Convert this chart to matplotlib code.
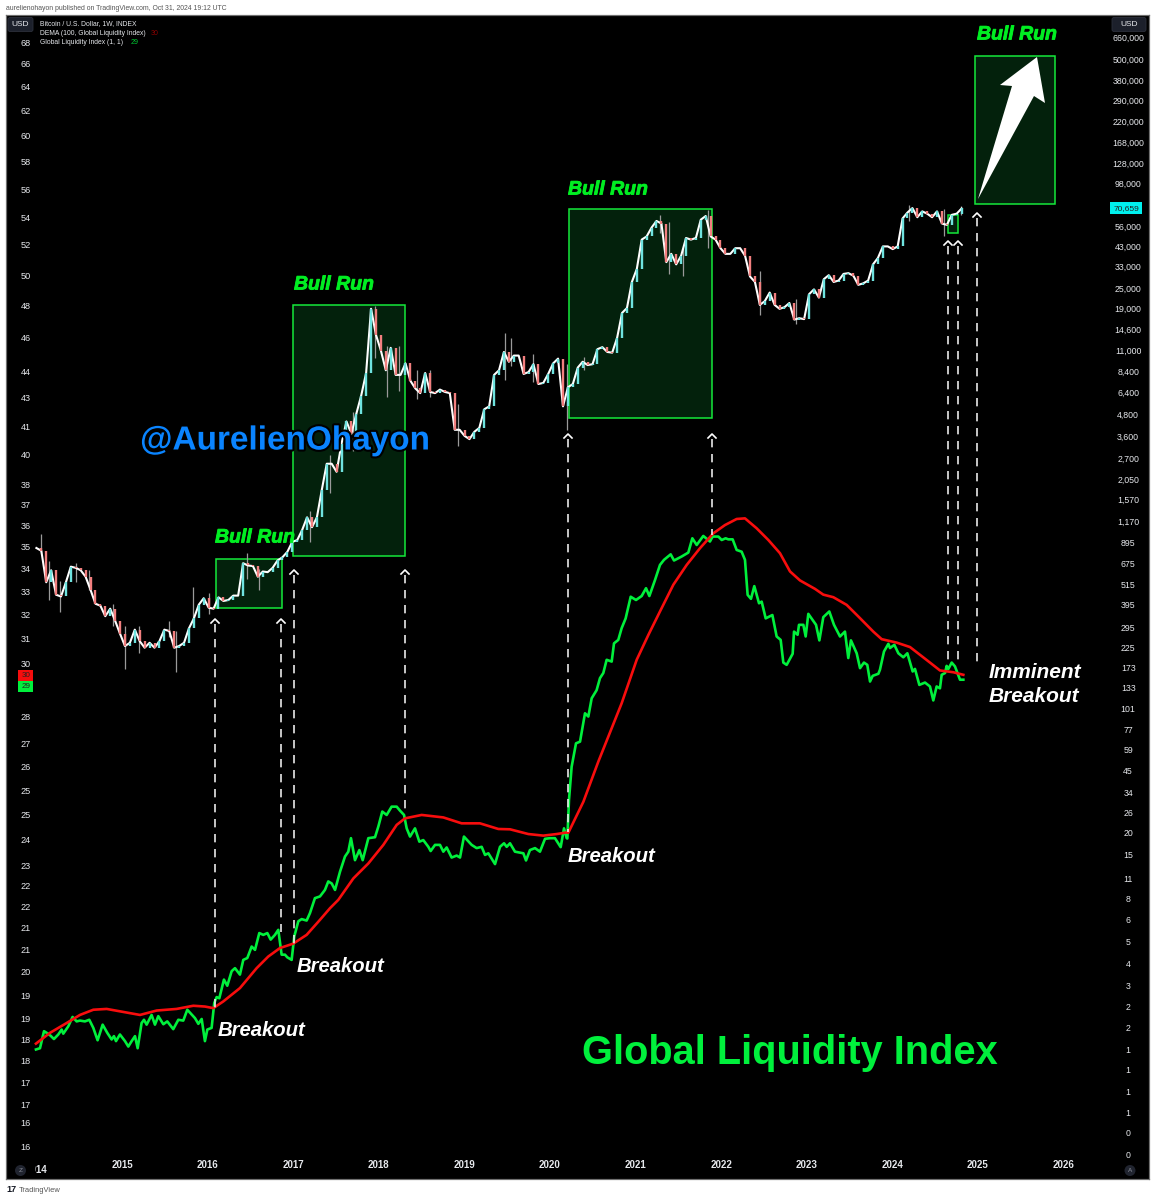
import numpy as np
import matplotlib
matplotlib.use('Agg')
import matplotlib.pyplot as plt
from matplotlib.patches import Rectangle, Polygon, Circle, FancyBboxPatch
import matplotlib.patheffects as pe

plt.rcParams['font.family'] = ['Liberation Sans', 'DejaVu Sans']

####################################################################################################
# data

# BTC close, one value every three weeks from January 2014
btc_start = 2014.0
btc_step = 21 / 365.25
btc_close = [
    830, 800, 530, 620, 450, 440, 530, 650, 640, 620, 570, 480, 400, 390, 340, 375, 320,
    270, 230, 240, 285, 245, 225, 240, 225, 245, 285, 280, 225, 230, 240, 290, 330, 395, 430,
    380, 375, 435, 415, 420, 445, 445, 680, 660, 655, 570, 610, 605, 640, 705, 735, 790,
    900, 920, 1050, 1240, 1090, 1240, 1780, 2500, 2500, 2250, 3250, 4350, 3700, 4800, 6100, 8200, 19000,
    13500, 11000, 8500, 11400, 8000, 8000, 9300, 7400, 6700, 6300, 8200, 6400, 6300, 6600, 6400, 6300, 3900, 3900,
    3600, 3450, 3800, 4000, 5100, 5300, 8000, 8500, 10800, 9500, 10300, 10300, 8100, 8300, 9200, 7100, 7200,
    8100, 9300, 9900, 5300, 6800, 7100, 8800, 9500, 9100, 9200, 11200, 11500, 10800, 10700, 13000, 18000, 19200, 27000,
    32000, 47000, 49000, 55000, 60000, 58000, 35000, 39000, 34000, 38000, 48000, 47000, 48000, 61000, 64000, 49000, 47000,
    42000, 39000, 39000, 42000, 42000, 38000, 29000, 27000, 20000, 21000, 23500, 20000, 19000, 19400, 20500, 16500, 16800,
    16600, 23000, 24500, 22000, 28000, 29500, 27000, 27500, 30000, 30300, 29300, 26000, 26500, 27500, 34000, 37000, 43000, 43000,
    41500, 43000, 62000, 67000, 71000, 63000, 68000, 66000, 63000, 68000, 58000, 57000, 65000, 66000, 70659,
]

# the wicks that stick out
wick_year = [2014.05, 2014.15, 2014.28, 2014.46, 2014.62, 2014.90, 2015.04, 2015.20, 2015.55, 2015.627,
             2015.83, 2016.02, 2016.46, 2016.60, 2017.20, 2017.43, 2017.70, 2017.95, 2018.10, 2018.24,
             2018.45, 2018.60, 2018.92, 2019.47, 2019.55, 2019.80, 2020.20, 2020.40, 2021.28, 2021.39,
             2021.55, 2021.85, 2022.45, 2022.87, 2024.20, 2024.60, 2024.80]
wick_low = [780, 420, 360, 530, 480, 300, 170, 210, 260, 164,
            300, 350, 550, 480, 900, 1700, 2950, 10000, 6000, 6500,
            5800, 6000, 3150, 7500, 9000, 7300, 3890, 8500, 51000, 30000,
            29000, 42000, 17600, 15500, 60000, 49000, 65000]
wick_high = [1000, 700, 540, 680, 620, 400, 300, 300, 320, 280,
             498, 460, 780, 630, 1350, 2800, 4900, 19800, 11700, 11700,
             8500, 8500, 5500, 13800, 13000, 10500, 9200, 10100, 64800, 59000,
             42000, 69000, 31000, 21500, 73800, 70000, 73000]

# Global Liquidity Index
gli_year = [
    2013.995, 2014.042, 2014.089, 2014.120, 2014.166, 2014.205, 2014.256, 2014.295, 2014.314, 2014.373,
    2014.423, 2014.470, 2014.509, 2014.567, 2014.618, 2014.665, 2014.715, 2014.774, 2014.828, 2014.879,
    2014.906, 2014.930, 2014.976, 2015.035, 2015.074, 2015.113, 2015.152, 2015.183, 2015.229, 2015.257,
    2015.288, 2015.346, 2015.385, 2015.424, 2015.483, 2015.529, 2015.599, 2015.658, 2015.716, 2015.763,
    2015.853, 2015.892, 2015.931, 2015.969, 2015.997, 2016.047, 2016.078, 2016.106, 2016.137, 2016.191,
    2016.230, 2016.281, 2016.320, 2016.378, 2016.417, 2016.464, 2016.515, 2016.554, 2016.604, 2016.651,
    2016.698, 2016.737, 2016.787, 2016.826, 2016.846, 2016.865, 2016.904, 2016.931, 2016.982, 2017.013,
    2017.060, 2017.099, 2017.157, 2017.196, 2017.254, 2017.313, 2017.371, 2017.410, 2017.450, 2017.489,
    2017.547, 2017.605, 2017.644, 2017.675, 2017.722, 2017.773, 2017.812, 2017.878, 2017.956, 2017.995,
    2018.041, 2018.092, 2018.150, 2018.209, 2018.248, 2018.295, 2018.326, 2018.365, 2018.423, 2018.474,
    2018.520, 2018.579, 2018.606, 2018.657, 2018.715, 2018.754, 2018.793, 2018.851, 2018.910, 2018.949,
    2018.995, 2019.085, 2019.143, 2019.202, 2019.241, 2019.280, 2019.358, 2019.416, 2019.463, 2019.494,
    2019.533, 2019.591, 2019.689, 2019.720, 2019.766, 2019.825, 2019.883, 2019.942, 2020.000, 2020.058,
    2020.125, 2020.164, 2020.195, 2020.203, 2020.222, 2020.253, 2020.304, 2020.351, 2020.409, 2020.448,
    2020.487, 2020.545, 2020.584, 2020.623, 2020.662, 2020.721, 2020.748, 2020.798, 2020.837, 2020.884,
    2020.943, 2021.005, 2021.071, 2021.122, 2021.161, 2021.227, 2021.285, 2021.332, 2021.410, 2021.449,
    2021.538, 2021.616, 2021.663, 2021.714, 2021.791, 2021.869, 2021.900, 2021.967, 2022.006, 2022.052,
    2022.083, 2022.134, 2022.181, 2022.239, 2022.278, 2022.309, 2022.348, 2022.387, 2022.442, 2022.473,
    2022.520, 2022.598, 2022.648, 2022.695, 2022.726, 2022.765, 2022.835, 2022.851, 2022.893, 2022.909,
    2022.960, 2022.987, 2023.018, 2023.108, 2023.147, 2023.193, 2023.263, 2023.318, 2023.388, 2023.446,
    2023.485, 2023.516, 2023.583, 2023.622, 2023.668, 2023.707, 2023.739, 2023.770, 2023.836, 2023.855,
    2023.902, 2023.953, 2023.972, 2024.023, 2024.070, 2024.128, 2024.175, 2024.237, 2024.264, 2024.315,
    2024.381, 2024.439, 2024.478, 2024.517, 2024.556, 2024.576, 2024.615, 2024.634, 2024.654, 2024.693,
    2024.731, 2024.790, 2024.829,
]
gli_value = [
    18.06, 18.09, 18.50, 18.46, 18.39, 18.31, 18.42, 18.54, 18.44, 18.62,
    18.85, 18.74, 18.76, 18.74, 18.78, 18.58, 18.28, 18.66, 18.46, 18.30,
    18.38, 18.26, 18.42, 18.26, 18.13, 18.26, 18.38, 18.09, 18.70, 18.78,
    18.66, 18.90, 18.66, 18.87, 18.67, 18.74, 18.55, 18.78, 18.76, 19.03,
    18.82, 18.68, 18.80, 18.26, 18.54, 18.58, 19.20, 19.35, 19.32, 19.80,
    19.64, 20.02, 20.10, 19.93, 20.32, 20.37, 20.68, 20.59, 21.05, 21.00,
    21.05, 20.87, 21.00, 21.14, 20.78, 20.46, 20.46, 20.39, 20.32, 20.96,
    21.38, 21.44, 21.40, 21.61, 22.04, 22.09, 22.28, 22.53, 22.47, 22.28,
    22.82, 23.28, 23.43, 23.85, 23.17, 23.48, 23.17, 23.85, 23.88, 24.22,
    24.70, 24.59, 24.86, 24.86, 24.73, 24.59, 24.16, 23.90, 24.16, 23.74,
    23.79, 23.58, 23.45, 23.64, 23.64, 23.43, 23.56, 23.25, 23.31, 23.25,
    23.90, 23.64, 23.54, 23.58, 23.33, 23.38, 23.05, 23.58, 23.69, 23.58,
    23.69, 23.43, 23.38, 23.16, 23.48, 23.54, 23.43, 23.83, 23.85, 23.85,
    23.57, 24.16, 23.85, 23.84, 25.08, 26.20, 27.02, 27.08, 28.11, 27.99,
    28.67, 28.98, 29.44, 29.64, 30.16, 30.09, 30.82, 30.96, 31.44, 31.85,
    32.77, 32.63, 32.80, 33.14, 32.80, 33.50, 34.17, 34.40, 34.65, 34.37,
    34.55, 34.73, 35.39, 35.08, 35.50, 35.24, 35.47, 35.47, 35.31, 35.39,
    35.34, 35.34, 34.85, 34.77, 34.40, 32.85, 32.68, 33.23, 32.49, 32.56,
    31.85, 31.99, 31.10, 30.96, 30.05, 29.96, 30.40, 31.30, 31.17, 31.58,
    31.58, 31.10, 32.04, 31.58, 30.94, 31.90, 32.14, 31.58, 31.10, 31.30,
    30.23, 30.94, 30.42, 29.83, 30.05, 29.96, 29.31, 29.53, 29.61, 29.77,
    30.49, 30.80, 30.63, 30.76, 30.42, 30.26, 30.42, 29.70, 29.80, 29.18,
    29.27, 29.12, 28.59, 29.12, 29.05, 29.57, 29.64, 29.92, 29.80, 30.05,
    29.90, 29.38, 29.38,
]

# DEMA (100) of the index
dema_year = [
    2013.995, 2014.159, 2014.353, 2014.509, 2014.665, 2014.821, 2015.054, 2015.210, 2015.405, 2015.638,
    2015.833, 2015.969, 2016.067, 2016.184, 2016.378, 2016.573, 2016.709, 2016.846, 2017.001, 2017.157,
    2017.313, 2017.430, 2017.527, 2017.703, 2017.878, 2018.053, 2018.209, 2018.306, 2018.501, 2018.754,
    2018.968, 2019.182, 2019.397, 2019.533, 2019.747, 2019.922, 2020.078, 2020.195, 2020.214, 2020.390,
    2020.565, 2020.837, 2021.013, 2021.149, 2021.285, 2021.441, 2021.597, 2021.752, 2021.908, 2022.044,
    2022.181, 2022.278, 2022.414, 2022.551, 2022.687, 2022.804, 2022.921, 2023.096, 2023.193, 2023.310,
    2023.466, 2023.602, 2023.777, 2023.875, 2024.050, 2024.206, 2024.439, 2024.556, 2024.712, 2024.829,
]
dema_value = [
    18.20, 18.46, 18.70, 18.90, 19.03, 19.05, 18.96, 18.90, 19.01, 19.05,
    19.13, 19.11, 19.07, 19.24, 19.58, 20.10, 20.41, 20.64, 20.76, 21.00,
    21.42, 21.75, 21.99, 22.62, 23.07, 23.64, 24.27, 24.48, 24.59, 24.51,
    24.32, 24.32, 24.14, 24.13, 23.98, 23.93, 23.98, 24.03, 24.02, 25.02,
    26.38, 28.48, 30.16, 31.16, 32.14, 33.29, 34.17, 34.93, 35.62, 36.01,
    36.30, 36.33, 35.86, 35.31, 34.70, 33.88, 33.48, 33.11, 32.86, 32.75,
    32.42, 31.93, 31.30, 30.99, 30.85, 30.67, 30.05, 29.74, 29.67, 29.57,
]

year_ticks = list(range(2015, 2027))
left_ticks = [68.0, 66.1, 64.1, 62.1, 60.1, 58.1, 56.0, 54.0, 52.1, 50.0, 48.1, 46.1, 44.1, 42.6, 41.0,
              39.5, 38.0, 37.0, 36.0, 35.0, 34.0, 33.0, 32.0, 31.0, 30.0, 28.0, 27.0, 26.2, 25.4, 24.6,
              23.8, 23.0, 22.4, 21.8, 21.2, 20.6, 20.0, 19.4, 18.8, 18.3, 17.8, 17.3, 16.8, 16.4, 15.9]
right_ticks = [660000, 500000, 380000, 290000, 220000, 168000, 128000, 98000, 56000, 43000, 33000,
               25000, 19000, 14600, 11000, 8400, 6400, 4800, 3600, 2700, 2050, 1570, 1170, 895, 675, 515,
               395, 295, 225, 173, 133, 101, 77, 59, 45, 34, 26, 20, 15, 11, 8.4, 6.4, 4.8, 3.6, 2.7,
               2.05, 1.57, 1.17, 0.895, 0.675, 0.515, 0.395, 0.295]

# (start year, end year, low price, high price)
bull_boxes = [
    (2016.098, 2016.870, 378, 719),
    (2016.998, 2018.306, 747, 19980),
    (2020.222, 2021.892, 4550, 70200),
    (2024.965, 2025.900, 74950, 520000),
    (2024.650, 2024.766, 51300, 64900),
]

####################################################################################################

W, H = 1155, 1200
GREEN = '#00ee22'
TICK = '#e6e8ec'

figure = plt.figure(figsize=(W / 100, H / 100), dpi=100, facecolor='white')
axes = figure.add_axes([6 / W, (H - 1179) / H, 1143 / W, 1164 / H], facecolor='black')
price_axes = axes.twinx()

# left scale, the index
axes.set_xlim(2013.645, 2026.998)
axes.set_yscale('log')
axes.set_ylim(15.23, 70.46)
axes.set_yticks(left_ticks, ['%d' % round(v) for v in left_ticks])
axes.yaxis.set_minor_locator(matplotlib.ticker.NullLocator())
axes.tick_params(axis='y', length=0, pad=-14, labelsize=6.6, labelcolor=TICK)
for label in axes.get_yticklabels():
    label.set_ha('center')
axes.set_xticks(year_ticks, [str(y) for y in year_ticks])
axes.tick_params(axis='x', length=0, pad=-14, labelsize=7, labelcolor=TICK)
for label in axes.get_xticklabels():
    label.set_fontweight('bold')

axes.plot(gli_year, gli_value, color='#00f03c', lw=1.9, solid_joinstyle='round', zorder=3)
axes.plot(dema_year, dema_value, color='#f80d0d', lw=1.9, solid_joinstyle='round', zorder=4)

# right scale, BTC
price_axes.set_yscale('log')
price_axes.set_ylim(0.2148, 889000)
price_axes.set_yticks(right_ticks, [format(round(v), ',d') for v in right_ticks])
price_axes.yaxis.set_minor_locator(matplotlib.ticker.NullLocator())
price_axes.tick_params(axis='y', length=0, pad=-15, labelsize=6.3, labelcolor=TICK)
for label in price_axes.get_yticklabels():
    label.set_ha('center')

for x0, x1, low, high in bull_boxes:
    price_axes.add_patch(Rectangle((x0, low), x1 - x0, high - low, facecolor='#03210c',
                                   edgecolor='#14e83a', lw=1.1, zorder=1))

close = np.array(btc_close, dtype=float)
years = btc_start + btc_step * np.arange(len(close))
opens = np.r_[close[0], close[:-1]]
price_axes.vlines(wick_year, wick_low, wick_high, color='#9a9a9a', lw=0.9, zorder=2)
# the candles are packed tight in the original, so run a thin line through the closes
price_axes.plot(years, close, color='white', lw=1.5, solid_joinstyle='round', zorder=3)
up = close >= opens
price_axes.vlines(years[up], opens[up], close[up], color='#6fe3df', lw=1.7, zorder=4)
price_axes.vlines(years[~up], close[~up], opens[~up], color='#f27f7f', lw=1.7, zorder=4)

for spine in axes.spines.values():
    spine.set_color('#707070')
for spine in price_axes.spines.values():
    spine.set_color('#707070')

####################################################################################################
# annotations, placed in picture pixels

notes = figure.add_axes([0, 0, 1, 1], facecolor='none')
notes.set_xlim(0, W)
notes.set_ylim(H, 0)
notes.axis('off')

def dashed_arrow(x, top, bottom):
    notes.plot([x, x], [top + 5, bottom], color='#e8e8e8', lw=1.2, dashes=(5, 4))
    notes.plot([x - 4, x, x + 4], [top + 4, top, top + 4], color='white', lw=1.2)

for x, top, bottom in [(215, 619, 1014), (281, 619, 932), (294, 570, 948), (405, 570, 815), (568, 434, 832),
                       (712, 434, 535), (948, 241, 665), (958, 241, 665), (977, 213, 668)]:
    dashed_arrow(x, top, bottom)

notes.add_patch(Polygon([(978, 199), (1012, 86), (1000, 85), (1037, 57), (1045, 103), (1034, 96)],
                        closed=True, facecolor='white', edgecolor='none'))

thick_green = [pe.withStroke(linewidth=0.6, foreground=GREEN)]
for x, y in [(215, 538), (294, 285), (568, 190), (977, 35)]:
    notes.text(x, y, 'Bull Run', color=GREEN, fontsize=14, fontweight='bold', style='italic', va='center',
               path_effects=thick_green)
for x, y in [(218, 1030), (297, 967), (568, 856)]:
    notes.text(x, y, 'Breakout', color='white', fontsize=14.6, fontweight='bold', style='italic', va='center')
notes.text(989, 673, 'Imminent', color='white', fontsize=15, fontweight='bold', style='italic', va='center')
notes.text(989, 697, 'Breakout', color='white', fontsize=15, fontweight='bold', style='italic', va='center')
notes.text(790, 1053, 'Global Liquidity Index', color='#00f03c', fontsize=28.6, fontweight='bold',
           ha='center', va='center')
notes.text(140, 441, '@AurelienOhayon', color='#0a84ff', fontsize=24, fontweight='bold', va='center',
           path_effects=[pe.withStroke(linewidth=3, foreground='black')])

# header
notes.text(6, 8, 'aurelienohayon published on TradingView.com, Oct 31, 2024 19:12 UTC', color='#555555',
           fontsize=4.95, va='center')
notes.text(40, 24, 'Bitcoin / U.S. Dollar, 1W, INDEX', color=TICK, fontsize=4.9, va='center')
notes.text(40, 33.5, 'DEMA (100, Global Liquidity Index)', color=TICK, fontsize=4.9, va='center')
notes.text(151, 33.5, '30', color='#8c0000', fontsize=5, va='center')
notes.text(40, 43, 'Global Liquidity Index (1, 1)', color=TICK, fontsize=4.9, va='center')
notes.text(131, 43, '29', color='#00c832', fontsize=5, va='center')

# USD boxes on both scales
for x0, x1 in [(8, 33), (1112, 1146)]:
    notes.add_patch(FancyBboxPatch((x0, 17.5), x1 - x0, 14, boxstyle='round,pad=0,rounding_size=2',
                                   facecolor='#1c202b', edgecolor='#2c303b', lw=0.6))
    notes.text((x0 + x1) / 2, 25, 'USD', color=TICK, fontsize=6, ha='center', va='center')

# last value tags
notes.add_patch(Rectangle((1110, 202), 32, 12, facecolor='#00f0ee', edgecolor='none'))
notes.text(1126, 208.5, '70,659', color='#222222', fontsize=6, ha='center', va='center')
notes.add_patch(Rectangle((18, 670), 15, 11, facecolor='#f50d0d', edgecolor='none'))
notes.text(26, 675.5, '30', color='#222222', fontsize=5.8, ha='center', va='center')
notes.add_patch(Rectangle((18, 681), 15, 11, facecolor='#00f03c', edgecolor='none'))
notes.text(26, 686.5, '29', color='#222222', fontsize=5.8, ha='center', va='center')

# clipped first year label and the little round buttons
year_label = notes.text(37, 1170, '2014', color=TICK, fontsize=7, fontweight='bold', ha='center', va='center',
                        clip_on=True)
year_label.set_clip_path(Rectangle((35, 1160), 30, 20, transform=notes.transData))
notes.add_patch(Circle((20.5, 1170.5), 5.5, facecolor='#20242f', edgecolor='none'))
notes.text(20.5, 1170.5, 'Z', color='#8a8e99', fontsize=4.6, ha='center', va='center')
notes.add_patch(Circle((1130, 1170.5), 5.5, facecolor='#20242f', edgecolor='none'))
notes.text(1130, 1170.5, 'A', color='#8a8e99', fontsize=4.6, ha='center', va='center')

# footer
notes.text(6, 1190, '17', color='#131722', fontsize=6.5, fontweight='bold', va='center')
notes.text(19, 1190, 'TradingView', color='#555555', fontsize=5.4, va='center')

figure.savefig('out.png', dpi=100)
